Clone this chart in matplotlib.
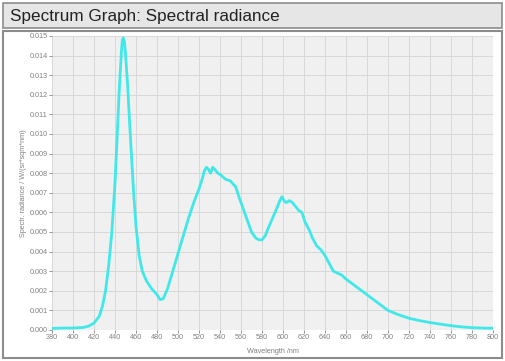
import matplotlib
matplotlib.use("Agg")
import matplotlib.pyplot as plt
from matplotlib.patches import Rectangle
import numpy as np

wavelength = [380, 390, 400, 410, 415, 420, 425, 428, 431, 434, 437, 440, 442, 444, 446, 447, 448, 449, 450, 452, 454, 456, 458, 460, 463, 466, 470, 475, 480, 483, 486, 490, 495, 500, 505, 510, 515, 520, 523, 525, 527, 529, 531, 533, 535, 538, 541, 545, 550, 555, 558, 562, 566, 570, 574, 577, 580, 583, 586, 590, 594, 597, 599, 601, 603, 606, 609, 612, 615, 618, 621, 625, 628, 632, 636, 640, 644, 648, 652, 656, 660, 665, 670, 680, 690, 700, 710, 720, 730, 740, 750, 760, 770, 780, 790, 800]
radiance = [0.00008, 0.0001, 0.0001, 0.00013, 0.0002, 0.00035, 0.0007, 0.0012, 0.002, 0.0033, 0.005, 0.0075, 0.0098, 0.0122, 0.0141, 0.0148, 0.0149, 0.0147, 0.0141, 0.0125, 0.0105, 0.0086, 0.0068, 0.0053, 0.0038, 0.0030, 0.0025, 0.0021, 0.0018, 0.00155, 0.0016, 0.0021, 0.0030, 0.0039, 0.0048, 0.0057, 0.0065, 0.0072, 0.0077, 0.0081, 0.0083, 0.0082, 0.0080, 0.0083, 0.0082, 0.0080, 0.0079, 0.0077, 0.0076, 0.0073, 0.0068, 0.0062, 0.0056, 0.0050, 0.0047, 0.0046, 0.0046, 0.0048, 0.0052, 0.0057, 0.0062, 0.0066, 0.0068, 0.0066, 0.0065, 0.0066, 0.0065, 0.0063, 0.0061, 0.0060, 0.0055, 0.0051, 0.0047, 0.0043, 0.0041, 0.0038, 0.0034, 0.0030, 0.0029, 0.0028, 0.0026, 0.0024, 0.0022, 0.0018, 0.0014, 0.0010, 0.00078, 0.00060, 0.00048, 0.00038, 0.00030, 0.00022, 0.00016, 0.00012, 0.00010, 0.00009]

x_ticks = list(range(380, 801, 20))
y_ticks = [round(i * 0.001, 3) for i in range(16)]

plt.rcParams['font.family'] = ['Liberation Sans', 'DejaVu Sans']

fig = plt.figure(figsize=(5.05, 3.61), dpi=100)
fig.patch.set_facecolor('white')

W, H = 505, 361
def fr(x0, y0, x1, y1):
    return (x0 / W, 1 - y1 / H, (x1 - x0) / W, (y1 - y0) / H)

# title bar
x, y, w, h = fr(3, 3, 502, 28)
fig.patches.append(Rectangle((x, y), w, h, transform=fig.transFigure,
                             facecolor='#e6e6e6', edgecolor='#8c8c8c', lw=1.2, zorder=-5))
fig.text(10 / W, 1 - 16 / H, 'Spectrum Graph: Spectral radiance',
         fontsize=12.3, va='center', ha='left', color='#222222')
# panel
x, y, w, h = fr(3, 31, 502, 358)
fig.patches.append(Rectangle((x, y), w, h, transform=fig.transFigure,
                             facecolor='white', edgecolor='#8c8c8c', lw=1.5, zorder=-5))

ax = fig.add_axes([52 / W, 1 - 330 / H, (493 - 52) / W, (330 - 36) / H])
ax.set_facecolor('#f0f0f0')
ax.plot(wavelength, radiance, color='#40e8e8', lw=2.0)
ax.set_xlim(380, 800)
ax.set_ylim(0, 0.015)
ax.set_xticks(x_ticks)
ax.set_yticks(y_ticks)
ax.set_xticklabels([str(t) for t in x_ticks])
ax.set_yticklabels([f'{t:.3f}' for t in y_ticks])
ax.tick_params(labelsize=5.2, colors='#808080', length=2, width=0.6, pad=1)
ax.grid(True, color='#d8d8d8', lw=0.7)
ax.set_axisbelow(True)
for s in ax.spines.values():
    s.set_visible(False)
ax.set_xlabel('Wavelength /nm', fontsize=5.2, color='#808080', labelpad=2)
ax.xaxis.set_label_coords(0.5, -0.06)
ax.set_ylabel('Spectr. radiance / W/(sr*sqm*nm)', fontsize=5.2, color='#808080', labelpad=2)

fig.savefig('out.png', dpi=100)
